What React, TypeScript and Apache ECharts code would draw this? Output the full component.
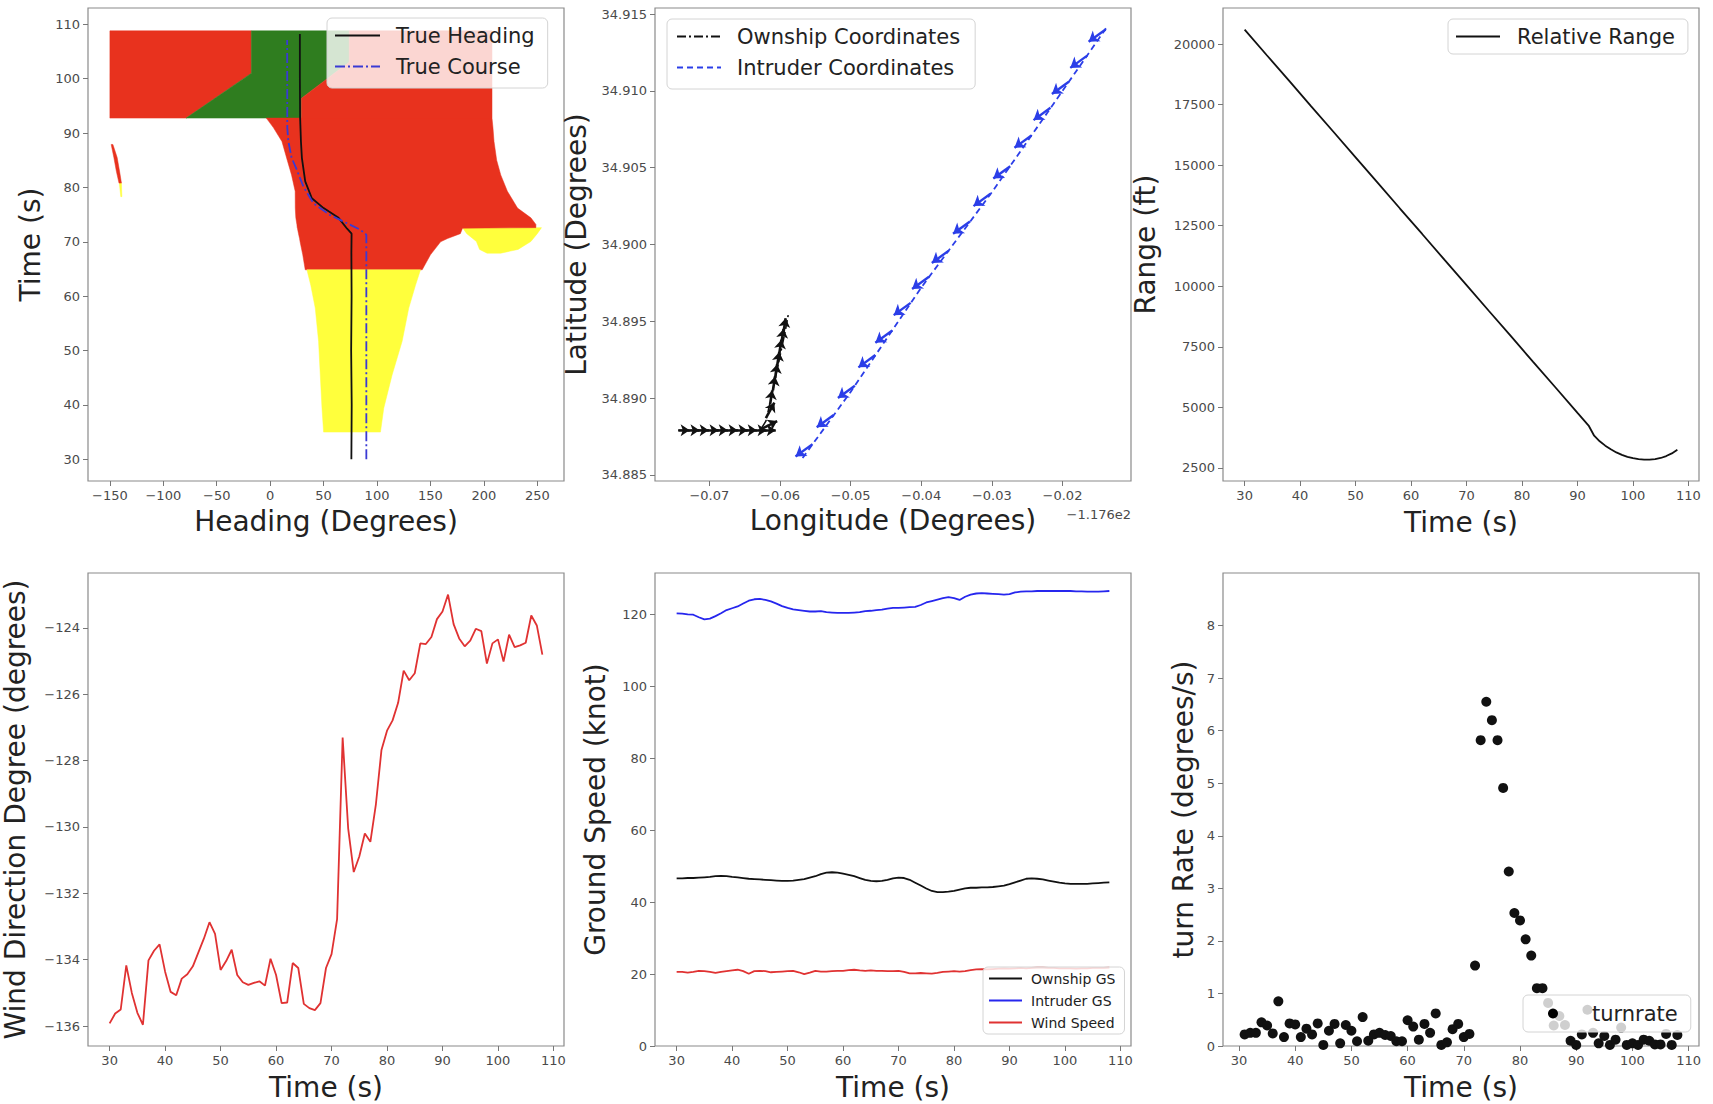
import React, { useEffect, useRef } from "react";
import * as echarts from "echarts";

const FONT = "DejaVu Sans";
const RED = "#e8321e";
const GREEN = "#2f7d1f";
const YELLOW = "#ffff3c";
const LON_OFFSET = -117.6;

// ---------- Panel 1: heading zones ----------
const headingTicks = [-150, -100, -50, 0, 50, 100, 150, 200, 250];
const timeTicksP1 = [30, 40, 50, 60, 70, 80, 90, 100, 110];
const trueHeadingDeg = [76.0, 76.3, 75.8, 76.2, 76.0, 76.2, 72.0, 64.0, 50.0, 39.0, 32.8, 29.7, 28.8, 28.0, 27.8, 27.8];
const trueHeadingTime = [30, 40, 50, 60, 68, 71.5, 72.4, 74.4, 76.2, 78.0, 81.1, 85.4, 88.45, 93, 100, 108.2];
const trueCourseDeg = [90.0, 90.0, 84.4, 71.9, 56.3, 40.6, 31.2, 25.0, 20.0, 17.0, 16.0, 15.9];
const trueCourseTime = [30, 71.3, 72.2, 73.4, 74.9, 77.05, 80.1, 83.2, 85.5, 88.5, 91.0, 107.1];

// zone rows: [time, headingFrom, headingTo]
const zoneRedUpperLeft = [[92.75, -150, -78.7], [101, -150, -17.6], [108.8, -150, -17.6]];
const zoneGreen = [[92.75, -78.7, 29.3], [96.4, -51.7, 29.3], [100.1, -24.3, 54], [101, -17.6, 60], [103, -17.6, 74], [108.8, -17.6, 74]];
const zoneRedUpperRight = [[92.75, 29.3, 207.6], [96.4, 29.3, 207.6], [100.1, 54, 207.6], [101, 60, 207.6], [103, 74, 207.6], [108.8, 74, 207.6]];
const zoneRedLower = [[64.85, 32.8, 142.3], [67.6, 30.5, 150], [70, 28, 159.5], [70.6, 27.5, 166], [71.5, 26.5, 178], [72.5, 25.5, 180], [72.6, 25.3, 248.7], [73.2, 25, 248.7], [74.4, 24, 244], [76.2, 23.5, 231.5], [79.3, 23.4, 222], [82.3, 20, 215.8], [85, 16, 212], [88.45, 11, 209.5], [91, 3, 208.5], [92.75, -3.6, 207.6]];
const zoneYellowLobe = [[67.9, 203, 215.8], [68.6, 196, 232], [70.06, 193, 244], [71.5, 184, 250], [72.6, 180, 253.9]];
const zoneYellowMain = [[35.0, 50, 103.2], [39.4, 48.5, 106.3], [45.5, 46.9, 114.1], [51.7, 45.3, 123.5], [57.8, 42.2, 129.7], [62, 38, 136], [64.85, 34.4, 140.7]];
const zoneStreakYellow = [[78.3, -139.8, -138.8], [80.8, -141.2, -139.2]];
const zoneStreakRed = [[80.8, -141.5, -139.2], [83, -144, -141], [85.5, -146.3, -143.2], [87.9, -148.8, -147.2]];

// ---------- Panel 2: coordinates ----------
const lonTicks = [-0.07, -0.06, -0.05, -0.04, -0.03, -0.02];
const latTicks = [34.885, 34.89, 34.895, 34.9, 34.905, 34.91, 34.915];
const ownLon = [-117.6744, -117.6628, -117.662, -117.6614, -117.6602, -117.6592, -117.6588];
const ownLat = [34.8879, 34.8879, 34.8885, 34.8897, 34.8923, 34.8945, 34.8955];
const intLon = [-117.6568, -117.65, -117.64, -117.63, -117.62, -117.6138];
const intLat = [34.8861, 34.8904, 34.8972, 34.9034, 34.91, 34.9141];
const ownArrowLon = [-117.6744, -117.673, -117.6717, -117.6703, -117.669, -117.6676, -117.6662, -117.6649, -117.6635, -117.6622, -117.6626, -117.662, -117.6614, -117.661, -117.6607, -117.6604, -117.6601, -117.6598, -117.6595];
const ownArrowLat = [34.8879, 34.8879, 34.8879, 34.8879, 34.8879, 34.8879, 34.8879, 34.8879, 34.8879, 34.8879, 34.888, 34.8887, 34.8896, 34.8905, 34.8913, 34.8921, 34.8929, 34.8936, 34.8943];
const ownArrowDLon = [0.0016, 0.0016, 0.0016, 0.0016, 0.0016, 0.0016, 0.0016, 0.0016, 0.0016, 0.0016, 0.0022, 0.0012, 0.0003, 0.0003, 0.0003, 0.0003, 0.0003, 0.0003, 0.0003];
const ownArrowDLat = [0, 0, 0, 0, 0, 0, 0, 0, 0, 0, 0.0005, 0.001, 0.0009, 0.0009, 0.0009, 0.0009, 0.0009, 0.0009, 0.0009];
const intArrowLon = [-117.6554, -117.6524, -117.6494, -117.6465, -117.6441, -117.6415, -117.6389, -117.6361, -117.6331, -117.6302, -117.6274, -117.6244, -117.6217, -117.6191, -117.6165, -117.6139];
const intArrowLat = [34.887, 34.8889, 34.8908, 34.8928, 34.8944, 34.8962, 34.8979, 34.8996, 34.9015, 34.9033, 34.9051, 34.9071, 34.9089, 34.9106, 34.9123, 34.914];
const intArrowDLon = [-0.0024, -0.0024, -0.0024, -0.0024, -0.0024, -0.0024, -0.0024, -0.0024, -0.0024, -0.0024, -0.0024, -0.0024, -0.0024, -0.0024, -0.0024, -0.0024];
const intArrowDLat = [-0.0008, -0.0008, -0.0008, -0.0008, -0.0008, -0.0008, -0.0008, -0.0008, -0.0008, -0.0008, -0.0008, -0.0008, -0.0008, -0.0008, -0.0008, -0.0008];

// ---------- Panel 3: range ----------
const timeTicks = [30, 40, 50, 60, 70, 80, 90, 100, 110];
const rangeTicks = [2500, 5000, 7500, 10000, 12500, 15000, 17500, 20000];
const rangeTime = [30, 34, 38, 42, 46, 50, 54, 58, 62, 66, 70, 74, 78, 82, 86, 90, 92, 93, 94, 95, 96, 97, 98, 99, 100, 101, 102, 103, 104, 105, 106, 107, 108];
const rangeFt = [20600, 19540, 18490, 17430, 16380, 15320, 14270, 13210, 12160, 11100, 10050, 8990, 7940, 6880, 5830, 4770, 4250, 3830, 3600, 3420, 3270, 3140, 3040, 2960, 2900, 2860, 2840, 2840, 2860, 2910, 2990, 3100, 3250];

// ---------- Panels 4 & 5: per-second series ----------
const timeSec = [30, 31, 32, 33, 34, 35, 36, 37, 38, 39, 40, 41, 42, 43, 44, 45, 46, 47, 48, 49, 50, 51, 52, 53, 54, 55, 56, 57, 58, 59, 60, 61, 62, 63, 64, 65, 66, 67, 68, 69, 70, 71, 72, 73, 74, 75, 76, 77, 78, 79, 80, 81, 82, 83, 84, 85, 86, 87, 88, 89, 90, 91, 92, 93, 94, 95, 96, 97, 98, 99, 100, 101, 102, 103, 104, 105, 106, 107, 108];
const windDirTicks = [-136, -134, -132, -130, -128, -126, -124];
const windDir = [
  -135.92, -135.62, -135.5, -134.17, -135.0, -135.6, -135.96, -134.02, -133.73, -133.54,
  -134.36, -134.97, -135.07, -134.57, -134.44, -134.2, -133.78, -133.36, -132.87, -133.22,
  -134.31, -134.04, -133.7, -134.46, -134.68, -134.76, -134.7, -134.65, -134.78, -133.97,
  -134.46, -135.31, -135.29, -134.1, -134.25, -135.33, -135.46, -135.52, -135.31, -134.25,
  -133.83, -132.78, -127.31, -130.05, -131.36, -130.89, -130.2, -130.45, -129.31, -127.68,
  -127.1, -126.79, -126.26, -125.29, -125.58, -125.37, -124.47, -124.49, -124.28, -123.74,
  -123.51, -123.0, -123.89, -124.32, -124.56, -124.39, -124.03, -124.1, -125.08, -124.47,
  -124.35, -125.02, -124.21, -124.58, -124.53, -124.45, -123.63, -123.93, -124.81,
];
const speedTicks = [0, 20, 40, 60, 80, 100, 120];
const intruderGS = [
  120.3, 120.2, 120.0, 119.9, 119.2, 118.6, 118.8, 119.5, 120.3, 121.2,
  121.7, 122.2, 123.0, 123.8, 124.2, 124.3, 124.0, 123.6, 123.0, 122.3,
  121.8, 121.4, 121.2, 121.0, 120.8, 120.8, 120.9, 120.6, 120.5, 120.4,
  120.4, 120.4, 120.5, 120.6, 120.9, 121.0, 121.2, 121.3, 121.6, 121.8,
  121.8, 121.9, 122.0, 122.1, 122.6, 123.3, 123.7, 124.1, 124.5, 124.8,
  124.5, 124.0, 124.9, 125.5, 125.8, 125.9, 125.8, 125.7, 125.6, 125.5,
  125.6, 126.1, 126.3, 126.4, 126.4, 126.5, 126.5, 126.5, 126.5, 126.5,
  126.5, 126.5, 126.4, 126.4, 126.3, 126.3, 126.3, 126.4, 126.5,
];
const ownshipGS = [
  46.6, 46.6, 46.7, 46.7, 46.8, 46.9, 47.0, 47.2, 47.3, 47.2,
  47.0, 46.9, 46.7, 46.5, 46.4, 46.3, 46.2, 46.1, 46.0, 45.9,
  45.9, 46.0, 46.2, 46.4, 46.8, 47.2, 47.8, 48.2, 48.3, 48.2,
  47.9, 47.6, 47.2, 46.7, 46.2, 45.9, 45.8, 45.9, 46.2, 46.6,
  46.8, 46.7, 46.2, 45.4, 44.6, 43.8, 43.1, 42.8, 42.8, 42.9,
  43.1, 43.5, 43.8, 44.0, 44.0, 44.1, 44.1, 44.2, 44.4, 44.6,
  45.0, 45.5, 46.0, 46.5, 46.6, 46.5, 46.3, 46.0, 45.7, 45.4,
  45.2, 45.1, 45.1, 45.1, 45.1, 45.2, 45.3, 45.4, 45.5,
];
const windSpeed = [
  20.6, 20.6, 20.4, 20.6, 20.9, 20.8, 20.6, 20.3, 20.6, 20.8,
  21.0, 21.2, 20.8, 20.1, 20.8, 20.9, 20.8, 20.5, 20.6, 20.7,
  20.8, 20.9, 20.5, 20.0, 20.4, 20.9, 20.7, 20.7, 20.8, 20.9,
  20.9, 21.1, 21.2, 21.0, 20.9, 21.0, 20.9, 20.9, 20.8, 20.8,
  20.9, 20.6, 20.2, 20.2, 20.3, 20.2, 20.1, 20.3, 20.6, 20.7,
  20.8, 20.7, 20.8, 21.1, 21.3, 21.4, 21.3, 21.4, 21.5, 21.6,
  21.5, 21.6, 21.7, 21.6, 21.7, 21.8, 21.8, 21.7, 21.7, 21.6,
  21.6, 21.6, 21.5, 21.6, 21.6, 21.7, 21.7, 21.7, 21.8,
];

// ---------- Panel 6: turn rate ----------
const turnTicks = [0, 1, 2, 3, 4, 5, 6, 7, 8];
const turnTime = [31, 32, 33, 34, 35, 36, 37, 38, 39, 40, 41, 42, 43, 44, 45, 46, 47, 48, 49, 50, 51, 52, 53, 54, 55, 56, 57, 58, 59, 60, 61, 62, 63, 64, 65, 66, 67, 68, 69, 70, 71, 72, 73, 74, 75, 76, 77, 78, 79, 80, 81, 82, 83, 84, 85, 86, 87, 88, 89, 90, 91, 92, 93, 94, 95, 96, 97, 98, 99, 100, 101, 102, 103, 104, 105, 106, 107, 108];
const turnRate = [
  0.22, 0.25, 0.25, 0.45, 0.39, 0.24, 0.85, 0.17, 0.43, 0.41,
  0.17, 0.33, 0.22, 0.43, 0.02, 0.29, 0.42, 0.05, 0.40, 0.29,
  0.09, 0.55, 0.10, 0.22, 0.25, 0.21, 0.19, 0.09, 0.09, 0.49,
  0.37, 0.12, 0.42, 0.25, 0.62, 0.02, 0.07, 0.32, 0.42, 0.17,
  0.23, 1.53, 5.82, 6.55, 6.2, 5.82, 4.91, 3.32, 2.53, 2.39,
  2.03, 1.72, 1.10, 1.10, 0.82, 0.39, 0.57, 0.40, 0.10, 0.02,
  0.22, 0.69, 0.25, 0.05, 0.19, 0.02, 0.12, 0.35, 0.02, 0.05,
  0.02, 0.12, 0.10, 0.03, 0.03, 0.23, 0.02, 0.21,
];

// ---------- helpers ----------
const minus = (s: string) => s.replace("-", "\u2212");
const fmtInt = (v: number) => minus(String(Math.round(v)));
const fmtFixed = (d: number) => (v: number) => minus(v.toFixed(d));

const zip = (xs: number[], ys: number[]) => xs.map((x, i) => [x, ys[i]]);

function axis(o: any) {
  return {
    type: "value",
    gridIndex: o.grid,
    min: o.min,
    max: o.max,
    name: o.name,
    nameLocation: "middle",
    nameGap: o.gap,
    nameRotate: o.vertical ? 90 : 0,
    nameTextStyle: { fontSize: 28, fontFamily: FONT, color: "#222" },
    axisLine: { show: false, onZero: false },
    axisTick: { show: true, length: 5, customValues: o.ticks, lineStyle: { color: "#777", width: 1 } },
    axisLabel: { show: true, customValues: o.ticks, formatter: o.fmt, fontSize: 13, fontFamily: FONT, color: "#4a4a4a", margin: 8 },
    splitLine: { show: false },
  };
}

function legendBox(o: any) {
  return {
    data: o.names,
    orient: "vertical",
    left: o.left,
    top: o.top,
    itemWidth: o.itemWidth,
    itemHeight: o.itemHeight ?? 12,
    itemGap: o.itemGap,
    padding: o.padding,
    backgroundColor: "rgba(255,255,255,0.8)",
    borderColor: "#d4d4d4",
    borderWidth: 1,
    borderRadius: 5,
    selectedMode: false,
    z: 10,
    itemStyle: o.hideSymbol ? { opacity: 0 } : undefined,
    textStyle: { fontSize: o.fontSize, fontFamily: FONT, color: "#222", lineHeight: o.lineHeight, padding: [0, 0, 0, o.textPad] },
  };
}

function zoneSeries(zones: { rows: number[][]; color: string }[]) {
  return {
    type: "custom",
    xAxisIndex: 0,
    yAxisIndex: 0,
    silent: true,
    z: 1,
    data: zones.map((_, i) => [i]),
    renderItem: (params: any, api: any) => {
      const z = zones[params.dataIndex];
      const left = z.rows.map((r) => api.coord([r[1], r[0]]));
      const right = z.rows.slice().reverse().map((r) => api.coord([r[2], r[0]]));
      return { type: "polygon", shape: { points: [...left, ...right] }, style: { fill: z.color, stroke: z.color, lineWidth: 0.5 } };
    },
  };
}

function arrows(lon: number[], lat: number[], dlon: number[], dlat: number[]) {
  return lon.map((x, i) => ({
    coords: [
      [x - LON_OFFSET, lat[i]],
      [x - LON_OFFSET + dlon[i], lat[i] + dlat[i]],
    ],
  }));
}

const GRIDS = [
  { left: 88, top: 8, width: 476, height: 473 },
  { left: 655, top: 8, width: 476, height: 473 },
  { left: 1223, top: 8, width: 476, height: 473 },
  { left: 88, top: 573, width: 476, height: 473 },
  { left: 655, top: 573, width: 476, height: 473 },
  { left: 1223, top: 573, width: 476, height: 473 },
];

function buildOption() {
  const zones = [
    { rows: zoneRedUpperLeft, color: RED },
    { rows: zoneGreen, color: GREEN },
    { rows: zoneRedUpperRight, color: RED },
    { rows: zoneYellowLobe, color: YELLOW },
    { rows: zoneRedLower, color: RED },
    { rows: zoneYellowMain, color: YELLOW },
    { rows: zoneStreakYellow, color: YELLOW },
    { rows: zoneStreakRed, color: RED },
  ];
  return {
    animation: false,
    backgroundColor: "#ffffff",
    textStyle: { fontFamily: FONT },
    grid: GRIDS.map((g) => ({ ...g, show: true, borderColor: "#8a8a8a", borderWidth: 1.2, backgroundColor: "transparent" })),
    xAxis: [
      axis({ grid: 0, min: -170.5, max: 275, ticks: headingTicks, fmt: fmtInt, name: "Heading (Degrees)", gap: 26 }),
      axis({ grid: 1, min: -0.0777, max: -0.0103, ticks: lonTicks, fmt: fmtFixed(2), name: "Longitude (Degrees)", gap: 25 }),
      axis({ grid: 2, min: 26.1, max: 111.9, ticks: timeTicks, fmt: fmtInt, name: "Time (s)", gap: 27 }),
      axis({ grid: 3, min: 26.1, max: 111.9, ticks: timeTicks, fmt: fmtInt, name: "Time (s)", gap: 27 }),
      axis({ grid: 4, min: 26.1, max: 111.9, ticks: timeTicks, fmt: fmtInt, name: "Time (s)", gap: 27 }),
      axis({ grid: 5, min: 27.15, max: 111.85, ticks: timeTicks, fmt: fmtInt, name: "Time (s)", gap: 27 }),
    ],
    yAxis: [
      axis({ grid: 0, min: 26.0, max: 113.0, ticks: timeTicksP1, fmt: fmtInt, name: "Time (s)", gap: 44, vertical: true }),
      axis({ grid: 1, min: 34.8846, max: 34.9154, ticks: latTicks, fmt: fmtFixed(3), name: "Latitude (Degrees)", gap: 65, vertical: true }),
      axis({ grid: 2, min: 1960, max: 21490, ticks: rangeTicks, fmt: fmtInt, name: "Range (ft)", gap: 64, vertical: true }),
      axis({ grid: 3, min: -136.6, max: -122.35, ticks: windDirTicks, fmt: fmtInt, name: "Wind Direction Degree (degrees)", gap: 59, vertical: true }),
      axis({ grid: 4, min: 0, max: 131.5, ticks: speedTicks, fmt: fmtInt, name: "Ground Speed (knot)", gap: 46, vertical: true }),
      axis({ grid: 5, min: 0, max: 9, ticks: turnTicks, fmt: fmtInt, name: "turn Rate (degrees/s)", gap: 26, vertical: true }),
    ],
    legend: [
      legendBox({ names: ["True Heading", "True Course"], left: 327, top: 18, itemWidth: 45, itemGap: 6, padding: [5, 13, 9, 7], fontSize: 21, lineHeight: 25, textPad: 11, hideSymbol: true }),
      legendBox({ names: ["Ownship Coordinates", "Intruder Coordinates"], left: 667, top: 19, itemWidth: 44, itemGap: 6, padding: [5, 15, 9, 9], fontSize: 21, lineHeight: 25, textPad: 11, hideSymbol: true }),
      legendBox({ names: ["Relative Range"], left: 1448, top: 19, itemWidth: 44, itemGap: 6, padding: [5, 13, 5, 7], fontSize: 21, lineHeight: 25, textPad: 12, hideSymbol: true }),
      legendBox({ names: ["Ownship GS", "Intruder GS", "Wind Speed"], left: 983, top: 967, itemWidth: 33, itemGap: 5, padding: [3, 9, 3, 5], fontSize: 14, lineHeight: 17, textPad: 4, hideSymbol: true }),
      legendBox({ names: ["turnrate"], left: 1523, top: 995, itemWidth: 10, itemHeight: 10, itemGap: 6, padding: [6, 13, 6, 25], fontSize: 21, lineHeight: 25, textPad: 29 }),
    ],
    graphic: [
      { type: "text", x: 1131, y: 514, style: { text: "\u22121.176e2", fontSize: 13, fontFamily: FONT, fill: "#4a4a4a", align: "right", verticalAlign: "middle" } },
    ],
    series: [
      zoneSeries(zones),
      {
        name: "True Heading", type: "line", xAxisIndex: 0, yAxisIndex: 0, symbol: "none", z: 3,
        data: zip(trueHeadingDeg, trueHeadingTime), color: "#111",
        lineStyle: { color: "#111", width: 1.8 },
      },
      {
        name: "True Course", type: "line", xAxisIndex: 0, yAxisIndex: 0, symbol: "none", z: 3,
        data: zip(trueCourseDeg, trueCourseTime), color: "#3a3ad4",
        lineStyle: { color: "#3a3ad4", width: 1.8, type: [10, 3, 2, 3] },
      },
      {
        name: "Ownship Coordinates", type: "line", xAxisIndex: 1, yAxisIndex: 1, symbol: "none", z: 3,
        data: zip(ownLon.map((v) => v - LON_OFFSET), ownLat), color: "#111",
        lineStyle: { color: "#111", width: 1.6, type: [9, 3, 2, 3] },
      },
      {
        name: "Intruder Coordinates", type: "line", xAxisIndex: 1, yAxisIndex: 1, symbol: "none", z: 3,
        data: zip(intLon.map((v) => v - LON_OFFSET), intLat), color: "#2b3ee8",
        lineStyle: { color: "#2b3ee8", width: 1.8, type: [6, 4] },
      },
      {
        type: "lines", coordinateSystem: "cartesian2d", xAxisIndex: 1, yAxisIndex: 1, z: 4, silent: true,
        symbol: ["none", "arrow"], symbolSize: 9,
        lineStyle: { color: "#111", width: 2.6, opacity: 1, curveness: 0 },
        data: arrows(ownArrowLon, ownArrowLat, ownArrowDLon, ownArrowDLat),
      },
      {
        type: "lines", coordinateSystem: "cartesian2d", xAxisIndex: 1, yAxisIndex: 1, z: 4, silent: true,
        symbol: ["none", "arrow"], symbolSize: 10,
        lineStyle: { color: "#2b3ee8", width: 2.4, opacity: 1, curveness: 0 },
        data: arrows(intArrowLon, intArrowLat, intArrowDLon, intArrowDLat),
      },
      {
        name: "Relative Range", type: "line", xAxisIndex: 2, yAxisIndex: 2, symbol: "none",
        data: zip(rangeTime, rangeFt), color: "#111",
        lineStyle: { color: "#111", width: 1.8 },
      },
      {
        name: "Wind Direction", type: "line", xAxisIndex: 3, yAxisIndex: 3, symbol: "none",
        data: zip(timeSec, windDir), color: "#e03232",
        lineStyle: { color: "#e03232", width: 1.8 },
      },
      {
        name: "Ownship GS", type: "line", xAxisIndex: 4, yAxisIndex: 4, symbol: "none",
        data: zip(timeSec, ownshipGS), color: "#111",
        lineStyle: { color: "#111", width: 1.8 },
      },
      {
        name: "Intruder GS", type: "line", xAxisIndex: 4, yAxisIndex: 4, symbol: "none",
        data: zip(timeSec, intruderGS), color: "#2626ee",
        lineStyle: { color: "#2626ee", width: 1.8 },
      },
      {
        name: "Wind Speed", type: "line", xAxisIndex: 4, yAxisIndex: 4, symbol: "none",
        data: zip(timeSec, windSpeed), color: "#e03232",
        lineStyle: { color: "#e03232", width: 1.8 },
      },
      {
        name: "turnrate", type: "scatter", xAxisIndex: 5, yAxisIndex: 5, symbol: "circle", symbolSize: 10,
        data: zip(turnTime, turnRate), color: "#111",
        itemStyle: { color: "#111", opacity: 1 },
      },
    ],
  };
}

export default function App() {
  const ref = useRef<HTMLDivElement>(null);
  useEffect(() => {
    if (!ref.current) return;
    const chart = echarts.init(ref.current, null, { renderer: "svg" });
    chart.setOption(buildOption() as any);
    return () => chart.dispose();
  }, []);
  return (
    <div
      ref={ref}
      style={{ position: "fixed", left: 0, top: 0, width: 1713, height: 1104, background: "#ffffff" }}
    />
  );
}
